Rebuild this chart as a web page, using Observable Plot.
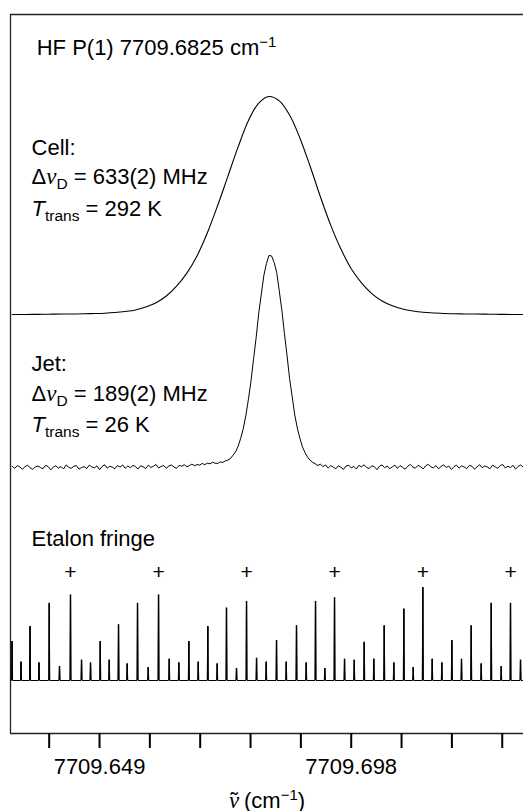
<!DOCTYPE html>
<html><head><meta charset="utf-8">
<script src="https://cdn.jsdelivr.net/npm/d3@7"></script>
<script src="https://cdn.jsdelivr.net/npm/@observablehq/plot@0.6"></script>
<style>
html,body{margin:0;padding:0;background:#fff;}
</style></head><body><div id="chart"></div>
<script>
// ---------- data ----------
const xTicks = [7709.6392, 7709.649, 7709.6588, 7709.6686, 7709.6784, 7709.6882, 7709.698, 7709.7078, 7709.7176, 7709.7274];
const xTickLabels = [7709.649, 7709.698];

// Cell spectrum (normalized), sampled every 0.002 cm-1 from 7709.632
const cellStart = 7709.632, cellStep = 0.002;
const cellIntensity = [0, 0, 0.0005, 0.001, 0.0015, 0.002, 0.0023, 0.0033, 0.0045, 0.006,
  0.009, 0.014, 0.021, 0.034, 0.054, 0.085, 0.13, 0.19, 0.27, 0.375,
  0.50, 0.635, 0.77, 0.89, 0.97, 1.0, 0.98, 0.915, 0.81, 0.68,
  0.54, 0.41, 0.30, 0.21, 0.145, 0.096, 0.062, 0.040, 0.025, 0.016,
  0.010, 0.007, 0.0045, 0.0035, 0.0025, 0.002, 0.0015, 0.001, 0.0005, 0, 0];

// Jet spectrum (normalized), sampled every 0.0005 cm-1 from 7709.632
const jetStart = 7709.632, jetStep = 0.0005;
const jetIntensity = [
  0.006, -0.004, 0.009, 0.002, -0.008, 0.004, 0.011, -0.002, -0.009, 0.003,
  0.007, 0.000, -0.006, 0.010, 0.004, -0.011, 0.002, 0.008, -0.003, 0.005,
  -0.007, 0.012, 0.001, -0.004, 0.006, 0.009, -0.008, 0.000, 0.004, -0.005,
  0.011, 0.003, -0.002, 0.008, -0.010, 0.005, 0.013, -0.003, 0.006, 0.001,
  -0.006, 0.009, 0.002, 0.012, -0.004, 0.007, -0.001, 0.010, 0.004, -0.007,
  0.008, 0.003, -0.005, 0.011, 0.000, 0.006, 0.014, -0.002, 0.005, 0.009,
  -0.003, 0.007, 0.012, 0.002, -0.004, 0.010, 0.006, 0.013, 0.003, 0.009,
  0.016, 0.008, 0.014, 0.011, 0.019, 0.013, 0.021, 0.017, 0.025, 0.020,
  0.019, 0.026, 0.024, 0.031, 0.035, 0.042,
  0.058, 0.074, 0.101, 0.138, 0.184, 0.246, 0.322, 0.408, 0.512, 0.611,
  0.726, 0.814, 0.903, 0.958, 0.996, 0.993, 0.962, 0.915, 0.828, 0.738,
  0.629, 0.527, 0.418, 0.334, 0.248, 0.186, 0.138, 0.097, 0.070, 0.049,
  0.034, 0.024,
  0.018, 0.009, 0.016, 0.004, 0.012, -0.003, 0.009, 0.002, -0.006, 0.008,
  0.001, -0.009, 0.007, 0.011, -0.002, 0.005, -0.007, 0.010, 0.003, 0.013,
  0.000, -0.005, 0.008, 0.004, -0.010, 0.006, 0.012, -0.001, 0.007, -0.006,
  0.003, 0.011, -0.004, 0.009, 0.001, -0.008, 0.006, 0.014, 0.002, -0.003,
  0.010, 0.004, -0.007, 0.008, 0.015, 0.003, -0.002, 0.009, -0.006, 0.005,
  0.012, 0.000, 0.007, -0.009, 0.004, 0.011, -0.003, 0.008, 0.002, -0.005,
  0.010, 0.006, -0.008, 0.003, 0.013, -0.001, 0.007, 0.002, -0.006, 0.011,
  0.004, -0.004, 0.009, 0.014, -0.002, 0.006, 0.000, 0.010, -0.007, 0.005,
  0.012, 0.001];

// Etalon fringe peaks: positions (cm-1) and relative heights
const etalonX = [7709.63197, 7709.63372, 7709.63547, 7709.63722, 7709.63921, 7709.64121, 7709.64335,
  7709.64550, 7709.64725, 7709.64914, 7709.65089, 7709.65270, 7709.65439, 7709.65640, 7709.65848, 7709.66049,
  7709.66257, 7709.66444, 7709.66639, 7709.66822, 7709.67008, 7709.67191, 7709.67372, 7709.67567, 7709.67762,
  7709.67957, 7709.68145, 7709.68346, 7709.68535, 7709.68735, 7709.68924, 7709.69105, 7709.69286, 7709.69475,
  7709.69670, 7709.69859, 7709.70053, 7709.70240, 7709.70443, 7709.70629, 7709.70824, 7709.71007, 7709.71194,
  7709.71377, 7709.71564, 7709.71759, 7709.71947, 7709.72136, 7709.72331, 7709.72526, 7709.72720, 7709.72901,
  7709.73096];
const etalonHeight = [0.42, 0.20, 0.58, 0.19, 0.83, 0.15, 0.92,
  0.22, 0.19, 0.42, 0.22, 0.60, 0.18, 0.83, 0.14, 0.92,
  0.23, 0.19, 0.42, 0.20, 0.58, 0.18, 0.78, 0.13, 0.85,
  0.24, 0.20, 0.43, 0.20, 0.59, 0.19, 0.85, 0.13, 0.89,
  0.23, 0.22, 0.41, 0.23, 0.59, 0.19, 0.77, 0.14, 1.00,
  0.23, 0.19, 0.43, 0.23, 0.59, 0.18, 0.83, 0.15, 0.83,
  0.22];
const etalonMarkX = [7709.64335, 7709.66049, 7709.67762, 7709.69475, 7709.71194, 7709.72901];

// Text
const titleText = "HF P(1) 7709.6825 cm^{\u22121}";
const cellLines = ["Cell:", "\u0394~\u03bd~_{D} = 633(2) MHz", "*T*_{trans} = 292 K"];
const jetLines = ["Jet:", "\u0394~\u03bd~_{D} = 189(2) MHz", "*T*_{trans} = 26 K"];
const etalonLabel = "Etalon fringe";
const xAxisTitle = "~\u03bd~&{\u02dc} (cm^{\u22121})";

// ---------- layout (code, not data) ----------
const FS = 22;
const xDomain = [7709.63167, 7709.73154];
const yDomain = [0, 7.19];
const cellBase = 4.19, cellScale = 2.18;
const jetBase = 2.66, jetScale = 2.13;
const etaBase = 0.53, etaScale = 0.93;
const labelX = 7709.63576, titleX = 7709.63677;

const cellData = cellIntensity.map((v, i) => ({x: cellStart + i * cellStep, y: cellBase + cellScale * v}));
const jetData = jetIntensity.map((v, i) => ({x: jetStart + i * jetStep, y: jetBase + jetScale * v}));
const etaW = 0.00011;
const etaLine = [{x: xDomain[0], y: etaBase}];
etalonX.forEach((x, i) => {
  etaLine.push({x: x - etaW, y: etaBase}, {x, y: etaBase + etaScale * etalonHeight[i]}, {x: x + etaW, y: etaBase});
});
etaLine.push({x: xDomain[1], y: etaBase});
const etaSpikes = etalonX.map((x, i) => ({x, y1: etaBase, y2: etaBase + etaScale * etalonHeight[i]}));

const notes = [
  {x: titleX, y: 6.79, text: titleText},
  {x: labelX, y: 5.79, text: cellLines[0]},
  {x: labelX, y: 5.495, text: cellLines[1]},
  {x: labelX, y: 5.18, text: cellLines[2]},
  {x: labelX, y: 3.63, text: jetLines[0]},
  {x: labelX, y: 3.33, text: jetLines[1]},
  {x: labelX, y: 3.015, text: jetLines[2]},
  {x: labelX, y: 1.875, text: etalonLabel}
];

const chart = Plot.plot({
  width: 523, height: 811,
  marginLeft: 10, marginRight: 0, marginTop: 14, marginBottom: 78,
  style: {fontFamily: "'Liberation Sans', Arial, Helvetica, sans-serif", fontSize: FS + "px", background: "#fff", color: "#000"},
  x: {domain: xDomain, axis: null},
  y: {domain: yDomain, axis: null},
  marks: [
    Plot.ruleX([xDomain[0]], {stroke: "#222", strokeWidth: 1.3}),
    Plot.ruleY([yDomain[0], yDomain[1]], {stroke: "#222", strokeWidth: 1.3}),
    Plot.axisX({ticks: xTicks, tickSize: 15, tickPadding: 10, strokeWidth: 2, fontSize: FS, label: null,
      tickFormat: d => xTickLabels.some(v => Math.abs(v - d) < 1e-6) ? d.toFixed(3) : ""}),
    Plot.line(cellData, {x: "x", y: "y", curve: "catmull-rom", stroke: "#000", strokeWidth: 1.1}),
    Plot.line(jetData, {x: "x", y: "y", stroke: "#000", strokeWidth: 1}),
    Plot.line(etaLine, {x: "x", y: "y", stroke: "#000", strokeWidth: 1}),
    Plot.ruleX(etaSpikes, {x: "x", y1: "y1", y2: "y2", stroke: "#000", strokeWidth: 1.5}),
    Plot.text(etalonMarkX, {x: d => d, y: 1.616, text: () => "+", fontSize: 21, lineAnchor: "middle"}),
    Plot.text(notes, {x: "x", y: "y", text: "text", textAnchor: "start", lineAnchor: "bottom", fontSize: FS}),
    Plot.text([xAxisTitle], {frameAnchor: "bottom", dy: 74, text: d => d, lineAnchor: "bottom", fontSize: FS})
  ]
});
document.getElementById("chart").appendChild(chart);

// rich text: _{sub}, ^{sup}, *italic*, ~italic serif~, &{overlay accent}
const NS = "http://www.w3.org/2000/svg";
chart.querySelectorAll("text").forEach(el => {
  const s = el.textContent;
  if (!/(_\{|\^\{|&\{|\*|~)/.test(s)) return;
  const parts = s.split(/(_\{[^}]*\}|\^\{[^}]*\}|&\{[^}]*\}|\*[^*]+\*|~[^~]+~)/).filter(p => p !== "");
  el.textContent = "";
  let shift = 0;
  for (const p of parts) {
    const t = document.createElementNS(NS, "tspan");
    let target = 0, content = p;
    if (p.startsWith("_{")) { content = p.slice(2, -1); target = 5; t.setAttribute("font-size", "15.5"); }
    else if (p.startsWith("^{")) { content = p.slice(2, -1); target = -8; t.setAttribute("font-size", "15"); }
    else if (p.startsWith("&{")) { content = p.slice(2, -1); t.setAttribute("dx", "-8.5"); t.setAttribute("font-size", "22"); }
    else if (p.startsWith("*")) { content = p.slice(1, -1); t.setAttribute("font-style", "italic"); }
    else if (p.startsWith("~")) { content = p.slice(1, -1); t.setAttribute("font-style", "italic");
      t.setAttribute("font-family", "'Liberation Serif', 'DejaVu Serif', serif"); t.setAttribute("font-size", "23"); }
    if (target !== shift) { t.setAttribute("dy", String(target - shift)); shift = target; }
    t.textContent = content;
    el.appendChild(t);
  }
});
</script></body></html>
